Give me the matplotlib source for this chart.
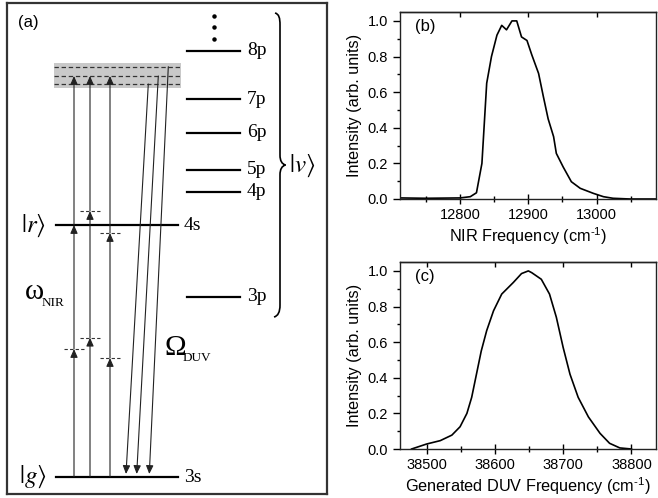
import matplotlib
matplotlib.use("Agg")
import matplotlib.pyplot as plt
import numpy as np
from matplotlib.path import Path
from matplotlib.patches import PathPatch, Rectangle
from matplotlib.ticker import MultipleLocator, FormatStrFormatter, NullFormatter

plt.rcParams['font.family'] = ['Liberation Sans', 'DejaVu Sans']

# ---------------- data ----------------
# panel (b): NIR spectrum
nir_freq = [12712, 12750, 12800, 12815, 12824, 12832, 12839, 12846, 12854, 12861, 12868,
            12876, 12883, 12890, 12898, 12905, 12915, 12922, 12929, 12937, 12941, 12951,
            12963, 12976, 12995, 13010, 13024, 13049, 13087]
nir_int = [0.006, 0.004, 0.006, 0.013, 0.035, 0.20, 0.65, 0.80, 0.92, 0.975, 0.95,
           1.0, 1.0, 0.91, 0.89, 0.81, 0.705, 0.575, 0.45, 0.35, 0.256, 0.18,
           0.097, 0.06, 0.032, 0.013, 0.004, 0.0, 0.0]

# panel (c): generated DUV spectrum
duv_freq = [38478, 38500, 38520, 38537, 38549, 38559, 38566, 38573, 38580, 38588, 38598,
            38610, 38627, 38639, 38649, 38654, 38668, 38680, 38690, 38700, 38710, 38722,
            38737, 38754, 38768, 38783, 38800]
duv_int = [0.0, 0.028, 0.047, 0.078, 0.125, 0.20, 0.29, 0.42, 0.55, 0.665, 0.776,
           0.87, 0.935, 0.985, 1.0, 0.99, 0.953, 0.87, 0.74, 0.57, 0.42, 0.29,
           0.18, 0.088, 0.032, 0.006, 0.0]

# panel (a): level scheme (vertical position in diagram units, top = 0)
p_labels = ['8p', '7p', '6p', '5p', '4p', '3p']
p_levels = [50.7, 99, 132.7, 170, 191.7, 296.7]
s_labels = ['4s', '3s']
s_levels = [225, 476.7]
band_levels = [66.7, 75.7, 84.3]
nir_x = [74, 90, 110]
nir_virtual = [(349, 225), (337.7, 211), (358, 233)]
nir_top = 76
duv_top = [(148.3, 84), (158.3, 76), (168.3, 66.7)]
duv_bottom = [(126, 474), (136.7, 474), (149.3, 474)]

# ---------------- figure ----------------
fig = plt.figure(figsize=(6.58, 4.98), dpi=100)
W, H = 658, 498

# ---- panel (a)
x0, x1, y0, y1 = 7, 327, 3, 494
axa = fig.add_axes([x0 / W, 1 - y1 / H, (x1 - x0) / W, (y1 - y0) / H])
axa.set_xlim(x0, x1)
axa.set_ylim(y1, y0)
axa.set_xticks([])
axa.set_yticks([])
for s in axa.spines.values():
    s.set_linewidth(1.6)
    s.set_color('#333333')

serif = 'Liberation Serif'
# gray band of final states
axa.add_patch(Rectangle((54, 62.7), 127, 25, facecolor='#c9c9c9', edgecolor='none', zorder=1))
for yb in band_levels:
    axa.plot([54, 181], [yb, yb], color='#333333', lw=0.9, ls=(0, (3.5, 2.2)), zorder=2)

# p levels
for lab, yl in zip(p_labels, p_levels):
    axa.plot([187, 240], [yl, yl], color='k', lw=1.6, zorder=3)
    axa.text(247, yl, lab, family=serif, fontsize=14, va='center', ha='left')
# s levels
for lab, yl in zip(s_labels, s_levels):
    axa.plot([55.5, 177.5], [yl, yl], color='k', lw=1.6, zorder=3)
    axa.text(184, yl + 1, lab, family=serif, fontsize=14, va='center', ha='left')

# dots above 8p
axa.plot([214, 214, 214], [16, 27.5, 39], 'o', color='k', ms=2.2)

arrow_style = '-|>,head_length=0.5,head_width=0.22'
def arrow(xs, ys, xe, ye):
    axa.annotate('', xy=(xe, ye), xytext=(xs, ys),
                 arrowprops=dict(arrowstyle=arrow_style, lw=0.8, color='#222222',
                                 shrinkA=0, shrinkB=0, mutation_scale=10), zorder=4)

# NIR photon arrows (3 steps each)
for xn, (v1, v2) in zip(nir_x, nir_virtual):
    pts = [s_levels[1], v1, v2, nir_top]
    for a, b in zip(pts[:-1], pts[1:]):
        arrow(xn, a, xn, b)
    for v in (v1, v2):
        if abs(v - s_levels[0]) > 3:
            axa.plot([xn - 10, xn + 10], [v, v], color='#333333', lw=0.8,
                     ls=(0, (3, 2)), zorder=2)

# DUV arrows
for (xt, yt), (xb, yb) in zip(duv_top, duv_bottom):
    arrow(xt, yt, xb, yb)

# brace
verts = [(275, 13), (279, 14), (280, 18), (280, 25),
         (280, 155),
         (280, 161), (282, 164), (285.5, 165),
         (282, 166), (280, 169), (280, 175),
         (280, 305),
         (280, 312), (278, 316), (274, 317)]
codes = [Path.MOVETO, Path.CURVE4, Path.CURVE4, Path.CURVE4,
         Path.LINETO,
         Path.CURVE4, Path.CURVE4, Path.CURVE4,
         Path.CURVE4, Path.CURVE4, Path.CURVE4,
         Path.LINETO,
         Path.CURVE4, Path.CURVE4, Path.CURVE4]
axa.add_patch(PathPatch(Path(verts, codes), facecolor='none', edgecolor='k', lw=1.2))

# labels
axa.text(18, 23, '(a)', fontsize=12, va='center', ha='left')
axa.text(302, 166, r'$|v\rangle$', fontsize=18, va='center', ha='center', math_fontfamily='stix')
axa.text(33, 226, r'$|r\rangle$', fontsize=18, va='center', ha='center', math_fontfamily='stix')
axa.text(33, 477, r'$|g\rangle$', fontsize=18, va='center', ha='center', math_fontfamily='stix')
axa.text(25, 299, 'ω', family=serif, fontsize=21, va='baseline', ha='left')
axa.text(42, 306, 'NIR', family=serif, fontsize=9.5, va='baseline', ha='left')
axa.text(164, 355, 'Ω', family=serif, fontsize=21, va='baseline', ha='left')
axa.text(183, 361, 'DUV', family=serif, fontsize=9.5, va='baseline', ha='left')


# ---- spectra panels
def style_axes(ax, xlim, major, minor):
    ax.set_xlim(*xlim)
    ax.set_ylim(0, 1.05)
    ax.xaxis.set_major_locator(MultipleLocator(major))
    ax.xaxis.set_minor_locator(MultipleLocator(minor))
    ax.yaxis.set_major_locator(MultipleLocator(0.2))
    ax.yaxis.set_minor_locator(MultipleLocator(0.1))
    ax.yaxis.set_major_formatter(FormatStrFormatter('%.1f'))
    ax.tick_params(axis='x', which='major', direction='inout', length=7, width=1,
                   labelsize=10.5, pad=3)
    ax.tick_params(axis='x', which='minor', direction='inout', length=4, width=1)
    ax.tick_params(axis='y', which='major', direction='out', length=5, width=1, labelsize=10.5)
    ax.tick_params(axis='y', which='minor', direction='out', length=2.5, width=1)
    for s in ax.spines.values():
        s.set_linewidth(1.0)
        s.set_color('#222222')
    ax.set_ylabel('Intensity (arb. units)', fontsize=11.7, labelpad=4)
    top = ax.secondary_xaxis('top')
    top.xaxis.set_major_locator(MultipleLocator(major))
    top.xaxis.set_major_formatter(NullFormatter())
    top.tick_params(axis='x', which='major', direction='in', length=3.5, width=1)
    top.spines['top'].set_linewidth(1.0)
    top.spines['top'].set_color('#222222')

axb = fig.add_axes([400 / W, 1 - 199 / H, 256 / W, 187 / H])
axb.plot(nir_freq, nir_int, color='k', lw=1.2)
style_axes(axb, (12712, 13087), 100, 50)
axb.set_xlabel('NIR Frequency (cm$^{\\mathregular{\u20101}}$)', fontsize=11.7, labelpad=2)
axb.text(0.06, 0.96, '(b)', transform=axb.transAxes, fontsize=12, va='top', ha='left')

axc = fig.add_axes([400 / W, 1 - 449 / H, 256 / W, 187 / H])
axc.plot(duv_freq, duv_int, color='k', lw=1.2)
style_axes(axc, (38461, 38836), 100, 50)
axc.set_xlabel('Generated DUV Frequency (cm$^{\\mathregular{\u20101}}$)', fontsize=11.7, labelpad=2)
axc.text(0.06, 0.96, '(c)', transform=axc.transAxes, fontsize=12, va='top', ha='left')

fig.savefig('out.png', dpi=100)
